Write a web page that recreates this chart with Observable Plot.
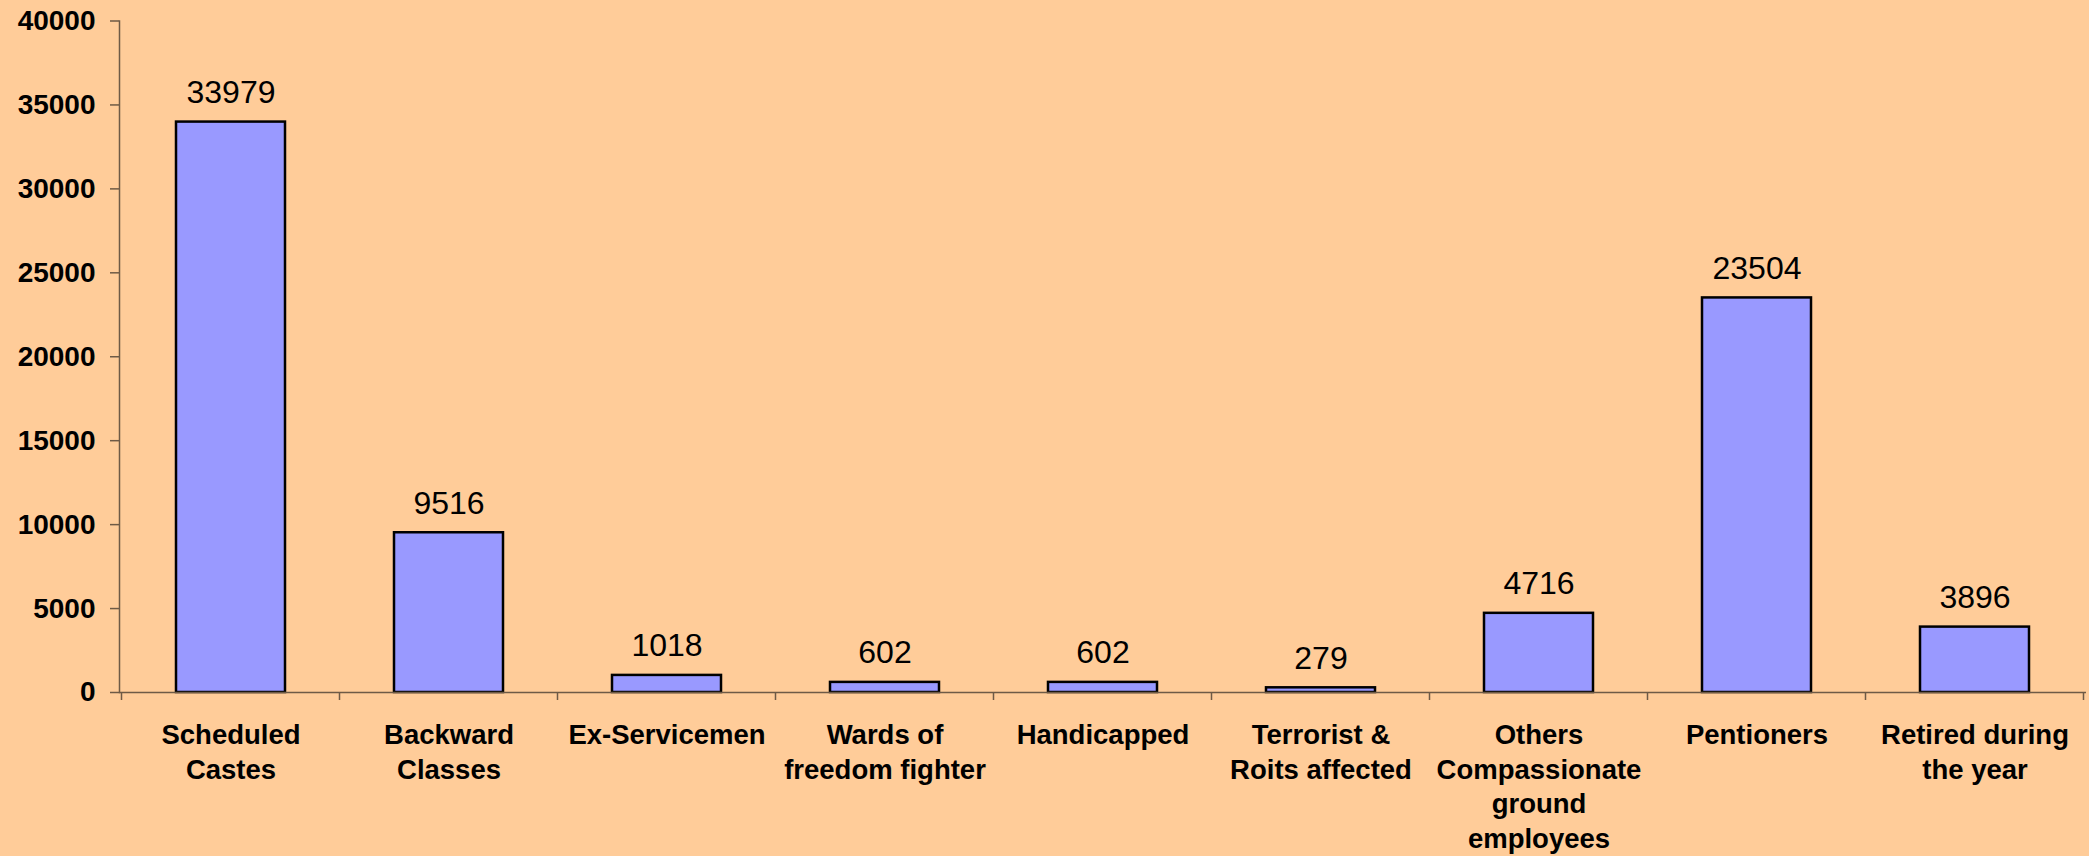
<!DOCTYPE html>
<html>
<head>
<meta charset="utf-8">
<script src="https://cdn.jsdelivr.net/npm/d3@7"></script>
<script src="https://cdn.jsdelivr.net/npm/@observablehq/plot@0.6"></script>
<style>
  html, body { margin: 0; padding: 0; background: #FFCC99; }
  #chart svg { display: block; }
</style>
</head>
<body>
<div id="chart"></div>
<script>
const categories = [
  "Scheduled Castes", "Backward Classes", "Ex-Servicemen", "Wards of freedom fighter",
  "Handicapped", "Terrorist & Roits affected", "Others Compassionate ground employees",
  "Pentioners", "Retired during the year"
];
const tickLabels = [
  "Scheduled\nCastes", "Backward\nClasses", "Ex-Servicemen", "Wards of\nfreedom fighter",
  "Handicapped", "Terrorist &\nRoits affected", "Others\nCompassionate\nground\nemployees",
  "Pentioners", "Retired during\nthe year"
];
const values = [33979, 9516, 1018, 602, 602, 279, 4716, 23504, 3896];
const yTicks = [0, 5000, 10000, 15000, 20000, 25000, 30000, 35000, 40000];

const data = categories.map((c, i) => ({category: c, value: values[i], label: tickLabels[i]}));
const labelOf = new Map(data.map(d => [d.category, d.label]));

const axisColor = "#6e5a46";
const font = "'Liberation Sans', Arial, sans-serif";

// boundary ticks between categories, drawn from the x band scale
function boundaryTicks(index, scales, values, dimensions) {
  const x = scales.x, y = scales.y;
  let bw = typeof x.bandwidth === "function" ? x.bandwidth() : x.bandwidth;
  if (!isFinite(bw) && scales.scales && scales.scales.x) bw = scales.scales.x.bandwidth;
  const starts = categories.map(c => x(c));
  const gap = starts[1] - starts[0] - bw;
  const bounds = [starts[0] - gap / 2, ...starts.map(s => s + bw + gap / 2)];
  const y0 = y(0);
  const g = d3.create("svg:g");
  g.selectAll("line").data(bounds.filter(isFinite)).join("line")
    .attr("x1", d => d).attr("x2", d => d)
    .attr("y1", y0).attr("y2", y0 + 8)
    .attr("stroke", axisColor).attr("stroke-width", 1.5);
  return g.node();
}

const plot = Plot.plot({
  width: 2089,
  height: 856,
  marginLeft: 119,
  marginRight: 3,
  marginTop: 20.5,
  marginBottom: 164,
  style: {background: "#FFCC99", fontFamily: font, color: "black"},
  x: {domain: categories, paddingInner: 0.5, paddingOuter: 0.25},
  y: {domain: [0, 40000]},
  marks: [
    Plot.barY(data, {x: "category", y: "value", fill: "#9999FF", stroke: "black", strokeWidth: 2.5}),
    Plot.ruleY([0], {stroke: axisColor, strokeWidth: 1.5}),
    Plot.frame({anchor: "left", stroke: axisColor, strokeWidth: 1.5}),
    Plot.axisY({ticks: yTicks, tickSize: 9, tickPadding: 15, fontSize: 28, fontWeight: "bold",
      stroke: axisColor, fill: "black", strokeWidth: 1.5, label: null, tickFormat: d => String(d)}),
    Plot.axisX({tickSize: 0, tickPadding: 27, fontSize: 27.5, fontWeight: "bold", fill: "black",
      lineHeight: 1.26, lineAnchor: "top", label: null, tickFormat: d => labelOf.get(d)}),
    Plot.text(data, {x: "category", y: "value", text: d => String(d.value), dy: -19,
      lineAnchor: "bottom", fontSize: 32, fill: "black"}),
    boundaryTicks
  ]
});
document.getElementById("chart").appendChild(plot);
</script>
</body>
</html>
